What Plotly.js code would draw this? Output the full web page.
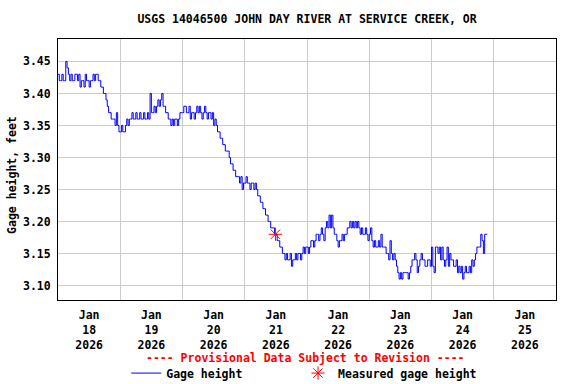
<!DOCTYPE html>
<html>
<head>
<meta charset="utf-8">
<script src="https://cdn.plot.ly/plotly-3.0.1.min.js"></script>
<style>html,body{margin:0;padding:0;background:#fff;}#chart{width:576px;height:384px;}</style>
</head>
<body>
<div id="chart"></div>
<script>
// Gage height (feet), 30-minute readings starting 2026-01-18 00:00
const day18 = [3.43,3.42, 3.42,3.43, 3.42,3.42, 3.45,3.44, 3.43,3.42, 3.43,3.42, 3.42,3.43, 3.43,3.42, 3.43,3.41, 3.42,3.42, 3.41,3.43, 3.42,3.42, 3.41,3.42, 3.42,3.43, 3.42,3.43, 3.43,3.42, 3.42,3.41, 3.41,3.40, 3.40,3.39, 3.38,3.37, 3.37,3.36, 3.36,3.36, 3.35,3.37, 3.35,3.34];
const day19 = [3.34,3.35, 3.34,3.34, 3.35,3.36, 3.35,3.36, 3.36,3.37, 3.36,3.36, 3.37,3.36, 3.36,3.37, 3.36,3.36, 3.37,3.36, 3.36,3.37, 3.36,3.40, 3.37,3.37, 3.38,3.37, 3.38,3.39, 3.38,3.39, 3.40,3.38, 3.38,3.37, 3.37,3.36, 3.36,3.35, 3.36,3.35, 3.36,3.36, 3.35,3.36, 3.37,3.37];
const day20 = [3.37,3.38, 3.38,3.37, 3.37,3.38, 3.36,3.37, 3.37,3.36, 3.37,3.38, 3.37,3.38, 3.37,3.36, 3.37,3.38, 3.37,3.36, 3.37,3.37, 3.36,3.37, 3.35,3.36, 3.35,3.34, 3.34,3.33, 3.33,3.32, 3.32,3.31, 3.31,3.31, 3.30,3.29, 3.29,3.28, 3.28,3.27, 3.27,3.27, 3.26,3.27, 3.25,3.26];
const day21 = [3.26,3.27, 3.26,3.26, 3.25,3.26, 3.26,3.25, 3.26,3.25, 3.24,3.24, 3.23,3.23, 3.22,3.22, 3.21,3.21, 3.20,3.20, 3.19,3.19, 3.19,3.18, 3.18,3.17, 3.17,3.16, 3.16,3.15, 3.15,3.14, 3.15,3.14, 3.14,3.15, 3.13,3.14, 3.14,3.15, 3.14,3.15, 3.15,3.14, 3.15,3.16, 3.15,3.16];
const day22 = [3.16,3.15, 3.16,3.17, 3.17,3.16, 3.17,3.18, 3.18,3.17, 3.18,3.19, 3.18,3.17, 3.19,3.20, 3.19,3.21, 3.19,3.21, 3.19,3.18, 3.18,3.17, 3.16,3.17, 3.17,3.18, 3.17,3.18, 3.18,3.19, 3.19,3.20, 3.19,3.20, 3.19,3.20, 3.19,3.20, 3.19,3.18, 3.19,3.18, 3.18,3.19, 3.18,3.17];
const day23 = [3.18,3.19, 3.17,3.16, 3.17,3.16, 3.16,3.17, 3.16,3.18, 3.16,3.16, 3.16,3.15, 3.15,3.14, 3.17,3.15, 3.14,3.15, 3.14,3.13, 3.12,3.11, 3.12,3.11, 3.12,3.12, 3.12,3.12, 3.11,3.12, 3.13,3.14, 3.14,3.15, 3.14,3.12, 3.13,3.14, 3.15,3.14, 3.14,3.13, 3.13,3.14, 3.14,3.13];
const day24 = [3.16,3.13, 3.12,3.16, 3.16,3.15, 3.16,3.14, 3.16,3.14, 3.13,3.14, 3.16,3.13, 3.15,3.14, 3.14,3.13, 3.13,3.14, 3.12,3.13, 3.12,3.13, 3.11,3.12, 3.13,3.12, 3.12,3.13, 3.12,3.14, 3.13,3.14, 3.15,3.16, 3.16,3.16, 3.18,3.17, 3.15,3.18, 3.18,3.18];

const seriesStart = [2026, 1, 18];
const stepMinutes = 30;

const measuredTimes = ['2026-01-21 11:50'];
const measuredValues = [3.18];

const title = 'USGS 14046500 JOHN DAY RIVER AT SERVICE CREEK, OR';
const yTitle = 'Gage height, feet';
const provisional = '---- Provisional Data Subject to Revision ----';
const xRange = ['2026-01-18 00:00', '2026-01-26 00:00'];
const yRange = [3.0773, 3.4851];

const gage = [].concat(day18, day19, day20, day21, day22, day23, day24);
function pad(n){ return (n < 10 ? '0' : '') + n; }
const times = gage.map(function(_, i){
  const t = new Date(Date.UTC(seriesStart[0], seriesStart[1]-1, seriesStart[2]) + i*stepMinutes*60000);
  return t.getUTCFullYear() + '-' + pad(t.getUTCMonth()+1) + '-' + pad(t.getUTCDate()) + ' ' + pad(t.getUTCHours()) + ':' + pad(t.getUTCMinutes());
});

const mono = {family: 'DejaVu Sans Mono, monospace', size: 11.5, color: '#000', weight: 'bold'};

const traces = [
  {x: times, y: gage, type: 'scatter', mode: 'lines', name: 'Gage height',
   line: {color: '#0000FF', width: 1, shape: 'hv'}, hoverinfo: 'x+y', legend: 'legend'},
  {x: measuredTimes, y: measuredValues, type: 'scatter', mode: 'markers', name: 'Measured gage height',
   marker: {symbol: 'asterisk-open', size: 11, color: '#FF0000', line: {color: '#FF0000', width: 1}},
   legend: 'legend2'}
];

const legendBase = {orientation: 'h', xanchor: 'left', y: -0.28, yanchor: 'middle',
                    font: mono, bgcolor: 'rgba(0,0,0,0)'};

const layout = {
  width: 576, height: 384,
  margin: {l: 58, r: 20, t: 39, b: 84, autoexpand: false},
  paper_bgcolor: '#fff', plot_bgcolor: '#fff',
  font: mono,
  title: {text: title, font: mono, x: 0.533, xanchor: 'center', y: 0.95, yanchor: 'middle'},
  showlegend: true,
  legend: Object.assign({}, legendBase, {x: 0.137}),
  legend2: Object.assign({}, legendBase, {x: 0.482}),
  xaxis: {type: 'date', range: xRange, tick0: '2026-01-18', dtick: 86400000,
          ticklabelmode: 'period', tickformat: '%b<br>%d<br>%Y',
          showgrid: true, gridcolor: '#CCCCCC', gridwidth: 1,
          showline: true, linecolor: '#000', linewidth: 1, mirror: true,
          ticks: '', zeroline: false, tickfont: mono, ticklabelstandoff: 4},
  yaxis: {range: yRange, dtick: 0.05, tick0: 3.0, tickformat: '.2f',
          showgrid: true, gridcolor: '#CCCCCC', gridwidth: 1,
          showline: true, linecolor: '#000', linewidth: 1, mirror: true,
          ticks: '', zeroline: false, tickfont: mono, ticklabelstandoff: 4},
  annotations: [
    {text: yTitle, xref: 'paper', yref: 'paper', x: -0.092, y: 0.48, textangle: -90,
     showarrow: false, font: mono, xanchor: 'center', yanchor: 'middle'},
    {text: provisional, xref: 'paper', yref: 'paper', x: 0.497, y: -0.222,
     showarrow: false, font: {family: mono.family, size: 11.5, color: '#FF0000', weight: 'bold'},
     xanchor: 'center', yanchor: 'middle'}
  ]
};

Plotly.newPlot('chart', traces, layout, {displayModeBar: false, staticPlot: true});
</script>
</body>
</html>
